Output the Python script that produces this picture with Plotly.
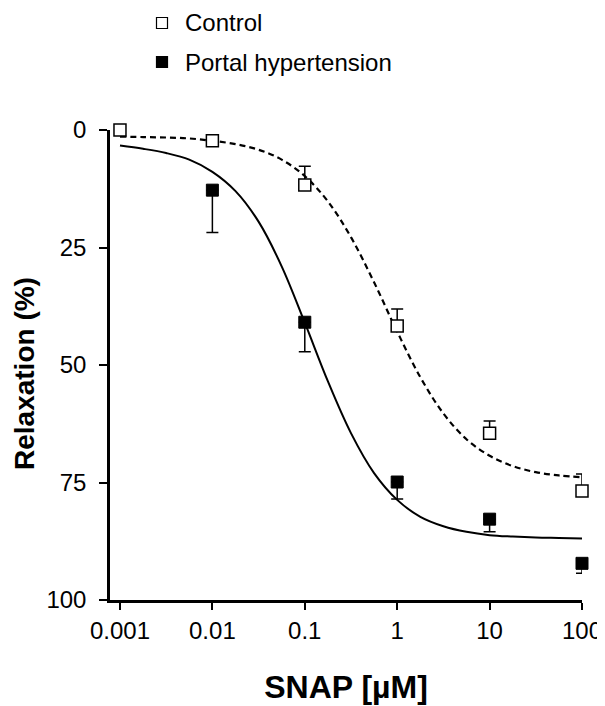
import plotly.graph_objects as go

# SNAP concentrations (µM)
conc = [0.001, 0.01, 0.1, 1, 10, 100]

# Control: mean relaxation (%) and SEM (drawn towards 0)
control = [0.0, 2.3, 11.7, 41.7, 64.5, 76.8]
control_err = [0.0, 0.0, 4.0, 3.6, 2.6, 3.6]

# Portal hypertension (no point at 0.001)
portal_conc = [0.01, 0.1, 1, 10, 100]
portal = [12.8, 40.9, 74.9, 82.8, 92.2]
portal_err = [9.0, 6.3, 3.6, 2.7, 2.1]

# fitted curves, every quarter decade
fit_x = [0.001, 0.00178, 0.00316, 0.00562, 0.01, 0.0178, 0.0316, 0.0562, 0.1, 0.178, 0.316,
         0.562, 1, 1.78, 3.16, 5.62, 10, 17.8, 31.6, 56.2, 100]
control_fit = [1.4, 1.5, 1.6, 1.8, 2.3, 3.0, 4.2, 6.3, 9.8, 15.2, 22.8,
               32.4, 42.9, 52.6, 60.3, 65.8, 69.3, 71.5, 72.8, 73.5, 73.9]
portal_fit = [3.3, 4.0, 4.9, 6.3, 8.9, 13.0, 19.5, 29.0, 41.0, 53.5, 64.5,
              73.0, 78.7, 82.3, 84.3, 85.5, 86.2, 86.5, 86.7, 86.8, 86.9]

legend_names = ["Control", "Portal hypertension"]
legend_fill = ["white", "black"]

FONT = "Liberation Sans, Arial, sans-serif"

# the page adds an 8px body margin, so the figure is a bit smaller than the window
W, H = 597, 698
L, R, T, B = 102, 23, 122, 106
pw, ph = W - L - R, H - T - B

def px_x(x):
    return (x - L) / pw

def px_y(y):
    return (H - B - y) / ph

fig = go.Figure()

fig.add_trace(go.Scatter(
    x=fit_x, y=control_fit, mode="lines", line_shape="spline",
    line=dict(color="black", width=2.2, dash="6px,4px"), showlegend=False, hoverinfo="skip"
))
fig.add_trace(go.Scatter(
    x=fit_x, y=portal_fit, mode="lines", line_shape="spline",
    line=dict(color="black", width=2), showlegend=False, hoverinfo="skip"
))

fig.add_trace(go.Scatter(
    x=conc, y=control, mode="markers", name="Control", showlegend=False,
    marker=dict(symbol="square", size=12, color="white", line=dict(color="black", width=1.5)),
    error_y=dict(type="data", symmetric=False, array=[0] * len(conc), arrayminus=control_err,
                 color="black", thickness=1.5, width=6),
    cliponaxis=False
))
fig.add_trace(go.Scatter(
    x=portal_conc, y=portal, mode="markers", name="Portal hypertension", showlegend=False,
    marker=dict(symbol="square", size=12, color="black", line=dict(color="black", width=1)),
    error_y=dict(type="data", symmetric=False, array=portal_err, arrayminus=[0] * len(portal_conc),
                 color="black", thickness=1.5, width=6),
    cliponaxis=False
))

# legend drawn above the plot: small squares plus labels
for i, (name, fill) in enumerate(zip(legend_names, legend_fill)):
    row_y = 15 + 39 * i
    fig.add_shape(type="rect", xref="paper", yref="paper",
                  xsizemode="pixel", ysizemode="pixel",
                  xanchor=px_x(154), yanchor=px_y(row_y),
                  x0=-5.5, x1=5.5, y0=-5.5, y1=5.5,
                  fillcolor=fill, line=dict(color="black", width=1.2))
    fig.add_annotation(text=name, xref="paper", yref="paper",
                       x=px_x(175), y=px_y(row_y), xanchor="left", yanchor="middle",
                       showarrow=False, font=dict(size=24))

# y axis title, placed further left than plotly's own title would go
fig.add_annotation(text="<b>Relaxation (%)</b>", xref="paper", yref="paper",
                   x=px_x(16), y=px_y(366), xanchor="center", yanchor="middle",
                   textangle=-90, showarrow=False, font=dict(size=28))

fig.update_layout(
    width=W, height=H,
    margin=dict(l=L, r=R, t=T, b=B),
    plot_bgcolor="white", paper_bgcolor="white",
    font=dict(family=FONT, color="black", size=24),
    showlegend=False,
    xaxis=dict(
        type="log", range=[-3.108, 2.0], automargin=False,
        tickvals=[0.001, 0.01, 0.1, 1, 10, 100],
        ticktext=["0.001", "0.01", "0.1", "1", "10", "100"],
        showline=True, linecolor="black", linewidth=2.5,
        ticks="outside", ticklen=7, tickwidth=2, tickcolor="black",
        showgrid=False, zeroline=False, tickfont=dict(size=24),
        title=dict(text="<b>SNAP [µM]</b>", font=dict(size=32), standoff=34),
    ),
    yaxis=dict(
        range=[100, 0], automargin=False,
        tickvals=[0, 25, 50, 75, 100],
        showline=True, linecolor="black", linewidth=2.5,
        ticks="outside", ticklen=8, tickwidth=2, tickcolor="black",
        ticklabelstandoff=8,
        showgrid=False, zeroline=False, tickfont=dict(size=24),
    ),
)

fig.write_html("out.html")
